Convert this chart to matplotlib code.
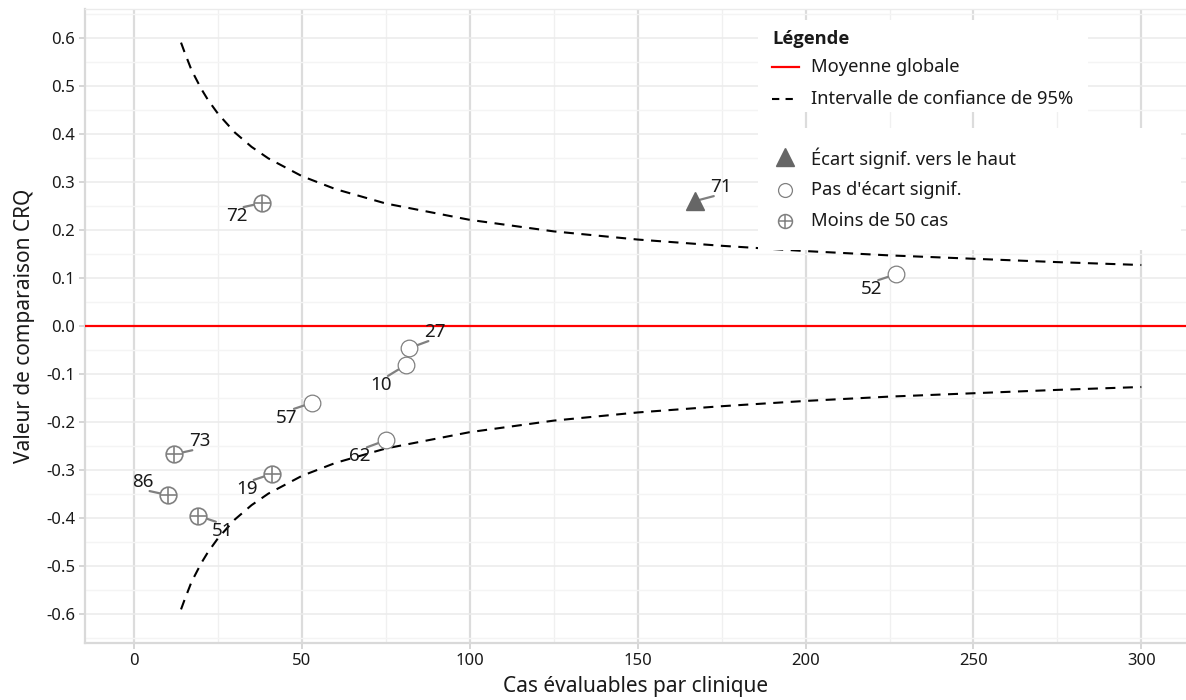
import matplotlib
matplotlib.use("Agg")
import matplotlib.pyplot as plt
from matplotlib.lines import Line2D
from matplotlib.patches import Rectangle

plt.rcParams['font.family'] = ['Noto Sans', 'DejaVu Sans']

# ---------------- data ----------------
clinic_ids   = ["72", "71", "52", "27", "10", "57", "62", "73", "86", "19", "51"]
cases        = [38, 167, 227, 82, 81, 53, 75, 12, 10, 41, 19]
crq_values   = [0.256, 0.260, 0.108, -0.046, -0.081, -0.160, -0.238, -0.267, -0.352, -0.308, -0.395]
categories   = ["lt50", "up", "ns", "ns", "ns", "ns", "ns", "lt50", "lt50", "lt50", "lt50"]

ci_cases = [14, 15, 16, 17, 18, 20, 22, 25, 30, 35, 40, 50, 60, 75, 100, 125, 150, 175,
            200, 225, 250, 275, 300]
ci_upper = [0.590, 0.571, 0.553, 0.535, 0.521, 0.494, 0.471, 0.442, 0.403, 0.373, 0.349,
            0.312, 0.285, 0.255, 0.221, 0.197, 0.180, 0.167, 0.156, 0.147, 0.140, 0.133, 0.127]
ci_lower = [-v for v in ci_upper]

global_mean = 0.0

x_ticks = [0, 50, 100, 150, 200, 250, 300]
y_ticks = [-0.6, -0.5, -0.4, -0.3, -0.2, -0.1, 0.0, 0.1, 0.2, 0.3, 0.4, 0.5, 0.6]
y_tick_labels = ["-0.6", "-0.5", "-0.4", "-0.3", "-0.2", "-0.1", "0.0",
                 "0.1", "0.2", "0.3", "0.4", "0.5", "0.6"]

# label offsets in pixels (dx right, dy up) -- layout only
label_offsets = {"72": (-25, -13), "71": (26, 14), "52": (-25, -15), "27": (26, 16),
                 "10": (-25, -20), "57": (-25, -15), "62": (-26, -16), "73": (25, 13),
                 "86": (-25, 13), "19": (-25, -15), "51": (25, -15)}

# ---------------- figure ----------------
W, H = 1186, 700
fig = plt.figure(figsize=(W / 100, H / 100), dpi=100)
fig.patch.set_facecolor("white")


def fx(px):
    return px / W


def fy(py):
    return 1 - py / H


def sgn(v):
    return 1 if v > 0 else -1


ax = fig.add_axes([fx(85), fy(643), fx(1186) - fx(85), fy(9) - fy(643)])
ax.set_xlim(-14.6, 313.3)
ax.set_ylim(-0.66, 0.66)

TXT = "#1a1a1a"
GRAY = "#808080"

ax.set_xticks(x_ticks)
ax.set_xticks([25, 75, 125, 175, 225, 275], minor=True)
ax.set_yticks(y_ticks)
ax.set_yticklabels(y_tick_labels)
ax.set_yticks([-0.65, -0.55, -0.45, -0.35, -0.25, -0.15, -0.05, 0.05, 0.15, 0.25,
               0.35, 0.45, 0.55, 0.65], minor=True)

ax.grid(which="major", axis="x", color="#dcdcdc", lw=1.6)
ax.grid(which="minor", axis="x", color="#f0f0f0", lw=1.0)
ax.grid(which="major", axis="y", color="#ebebeb", lw=1.1)
ax.grid(which="minor", axis="y", color="#f4f4f4", lw=1.0)
ax.set_axisbelow(True)

ax.spines["right"].set_visible(False)
ax.spines["top"].set_color("#ebebeb")
ax.spines["top"].set_linewidth(1.0)
for s in ["left", "bottom"]:
    ax.spines[s].set_color("#d9d9d9")
    ax.spines[s].set_linewidth(1.6)

ax.tick_params(which="major", length=4, width=1.2, color="#d0d0d0",
               labelsize=12, labelcolor=TXT, pad=3)
ax.tick_params(which="minor", length=0)

ax.set_xlabel("Cas évaluables par clinique", fontsize=15, color=TXT, labelpad=5)
ax.set_ylabel("Valeur de comparaison CRQ", fontsize=15, color=TXT, labelpad=8)

# reference lines
ax.axhline(global_mean, color="#ff0000", lw=1.6, zorder=3)
ax.plot(ci_cases, ci_upper, color="black", lw=1.5, ls=(0, (4.8, 3.6)), zorder=3)
ax.plot(ci_cases, ci_lower, color="black", lw=1.5, ls=(0, (4.8, 3.6)), zorder=3)

# points, labels and leader segments
for cid, n, v, cat in zip(clinic_ids, cases, crq_values, categories):
    dx, dy = label_offsets[cid]
    sx, sy = (dx - sgn(dx) * 7) * 0.72, (dy - sgn(dy) * 9) * 0.72
    ax.annotate("", xy=(n, v), xytext=(sx, sy), textcoords="offset points",
                arrowprops=dict(arrowstyle="-", color=GRAY, lw=1.6, shrinkA=0, shrinkB=0),
                zorder=4)
    ax.annotate(cid, xy=(n, v), xytext=(dx * 0.72, dy * 0.72), textcoords="offset points",
                ha="center", va="center", fontsize=13.5, color=TXT, zorder=4)
    if cat == "up":
        ax.plot(n, v, marker="^", ms=13.5, color="#666666", mec="#666666", zorder=5)
    elif cat == "ns":
        ax.plot(n, v, marker="o", ms=12, mfc="white", mec=GRAY, mew=0.9, zorder=5)
    else:
        ax.plot(n, v, marker="o", ms=12, mfc="white", mec=GRAY, mew=1.2, zorder=5)
        ax.plot(n, v, marker="+", ms=12, mec=GRAY, mew=1.2, zorder=6)

# ---------------- legend (drawn manually) ----------------
fig.add_artist(Rectangle((fx(758), fy(112)), fx(1088) - fx(758), fy(20) - fy(112),
                         transform=fig.transFigure, fc="white", ec="none", zorder=10))
fig.add_artist(Rectangle((fx(758), fy(250)), fx(1181) - fx(758), fy(128) - fy(250),
                         transform=fig.transFigure, fc="white", ec="none", zorder=10))

LFS = 13.2
fig.text(fx(772), fy(39), "Légende", fontsize=LFS, fontweight="bold", color=TXT,
         family=["Open Sans", "Lato", "DejaVu Sans"],
         va="center", ha="left", zorder=11)
fig.add_artist(Line2D([fx(772), fx(799)], [fy(67), fy(67)], transform=fig.transFigure,
                      color="#ff0000", lw=1.6, zorder=11))
fig.text(fx(811), fy(67), "Moyenne globale", fontsize=LFS, color=TXT, va="center",
         ha="left", zorder=11)
fig.add_artist(Line2D([fx(772), fx(799)], [fy(99), fy(99)], transform=fig.transFigure,
                      color="black", lw=1.5, ls=(0, (3.5, 3.0)), zorder=11))
fig.text(fx(811), fy(99), "Intervalle de confiance de 95%", fontsize=LFS, color=TXT,
         va="center", ha="left", zorder=11)

fig.add_artist(Line2D([fx(785)], [fy(157)], transform=fig.transFigure, marker="^",
                      ms=13.5, color="#666666", ls="none", zorder=11))
fig.text(fx(811), fy(158), "Écart signif. vers le haut", fontsize=LFS, color=TXT,
         va="center", ha="left", zorder=11)
fig.add_artist(Line2D([fx(785)], [fy(190)], transform=fig.transFigure, marker="o",
                      ms=10, mfc="white", mec=GRAY, mew=0.9, ls="none", zorder=11))
fig.text(fx(811), fy(190), "Pas d'écart signif.", fontsize=LFS, color=TXT,
         va="center", ha="left", zorder=11)
fig.add_artist(Line2D([fx(785)], [fy(221)], transform=fig.transFigure, marker="o",
                      ms=10, mfc="white", mec=GRAY, mew=1.1, ls="none", zorder=11))
fig.add_artist(Line2D([fx(785)], [fy(221)], transform=fig.transFigure, marker="+",
                      ms=10, mec=GRAY, mew=1.1, ls="none", zorder=12))
fig.text(fx(811), fy(221), "Moins de 50 cas", fontsize=LFS, color=TXT,
         va="center", ha="left", zorder=11)

fig.savefig("out.png", dpi=100)
